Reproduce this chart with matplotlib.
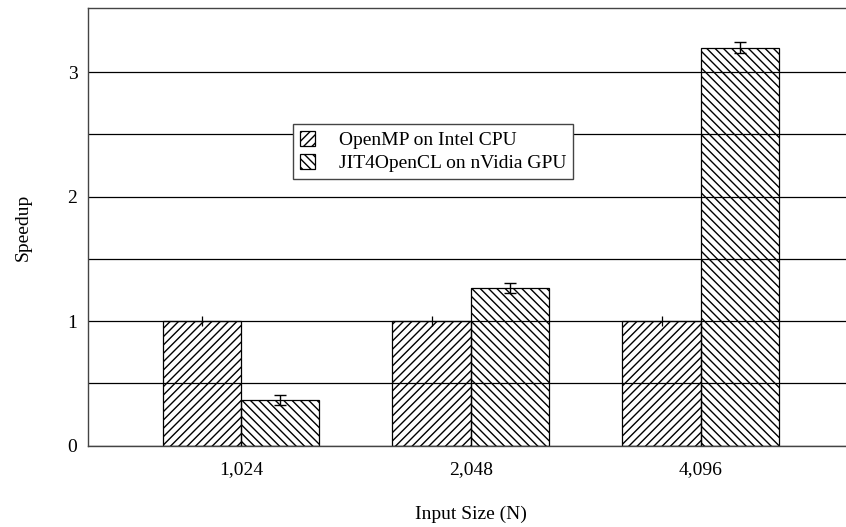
import matplotlib
matplotlib.use('Agg')
import matplotlib.pyplot as plt
import numpy as np

sizes = ['1,024', '2,048', '4,096']
openmp = [1.0, 1.0, 1.0]
openmp_err = [0.04, 0.04, 0.04]
jit = [0.367, 1.266, 3.195]
jit_err = [0.04, 0.04, 0.045]
labels = ['OpenMP on Intel CPU', 'JIT4OpenCL on nVidia GPU']

plt.rcParams['font.family'] = ['Liberation Serif', 'DejaVu Serif']
plt.rcParams['hatch.linewidth'] = 1.0

fig = plt.figure(figsize=(8.46, 5.27), dpi=100)
ax = fig.add_axes([0.1046, 0.1543, 0.904, 0.8296])

x = np.arange(len(sizes))
w = 0.341
ax.bar(x - w / 2, openmp, w, facecolor='none', edgecolor='black', hatch='////',
       linewidth=0.9, label=labels[0], zorder=2)
ax.bar(x + w / 2, jit, w, facecolor='none', edgecolor='black', hatch='\\\\\\\\',
       linewidth=0.9, label=labels[1], zorder=2)
ax.errorbar(x - w / 2, openmp, yerr=openmp_err, fmt='none', ecolor='black',
            elinewidth=0.9, capsize=0, zorder=3)
ax.errorbar(x + w / 2, jit, yerr=jit_err, fmt='none', ecolor='black',
            elinewidth=1.0, capsize=4, zorder=3)

ax.set_xlim(-0.663, 2.663)
ax.set_ylim(0, 3.51)
ax.set_yticks([0, 1, 2, 3])
ax.set_yticks(np.arange(0.5, 3.5, 1.0), minor=True)
ax.grid(axis='y', which='both', color='black', linewidth=0.9, zorder=1)
ax.set_axisbelow(True)
ax.set_xticks(x)
ax.set_xticklabels(sizes)
ax.tick_params(axis='both', which='both', length=0, labelsize=14)
ax.tick_params(axis='x', pad=11)
ax.tick_params(axis='y', pad=8)

for s in ['left', 'bottom', 'top']:
    ax.spines[s].set_color('#444444')
    ax.spines[s].set_linewidth(1.0)
ax.spines['right'].set_visible(False)

ax.set_xlabel('Input Size (N)', fontsize=14, labelpad=20)
ax.set_ylabel('Speedup', fontsize=14, labelpad=26)

leg = ax.legend(loc='upper left', bbox_to_anchor=(0.3463, 0.7647),
                bbox_transform=fig.transFigure, borderaxespad=0, fontsize=14,
                fancybox=False, framealpha=1, edgecolor='#444444',
                handlelength=0.8, handleheight=0.8, handletextpad=1.2,
                labelspacing=0.25, borderpad=0.35)
leg.get_frame().set_linewidth(1.0)

fig.savefig('out.png', dpi=100)
